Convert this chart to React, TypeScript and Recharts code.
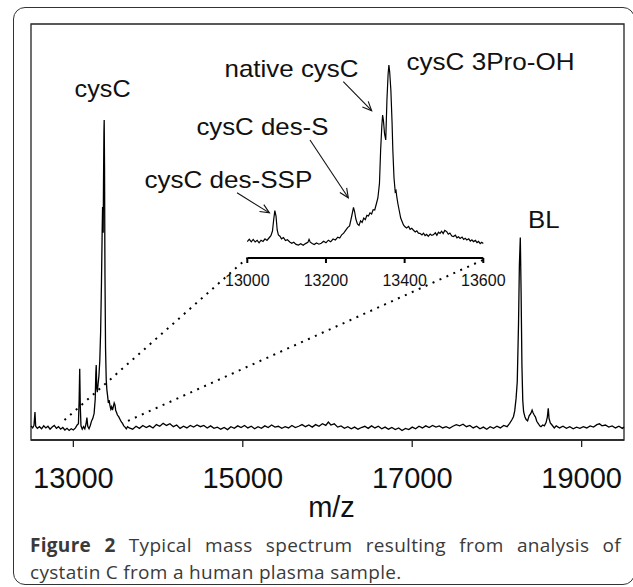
import React from 'react';
import { LineChart, Line, XAxis, YAxis, ReferenceLine, ReferenceArea } from 'recharts';

// [m/z, relative intensity]
const LEFT_BASELINE: [number, number][] = [
  [12500, 3.4], [12520, 2.9], [12535, 3.5], [12547, 6.7], [12555, 3.3], [12575, 2.8],
  [12600, 3.2], [12625, 2.7], [12650, 3.4], [12675, 2.9], [12700, 3.3], [12725, 2.6],
  [12750, 3.1], [12775, 3.5], [12800, 2.8], [12825, 3.2], [12850, 2.6], [12875, 3.0],
  [12900, 2.4], [12925, 2.8], [12950, 2.3], [12975, 2.7], [13000, 2.4], [13025, 2.9],
  [13045, 3.6],
];

const CYSC_REGION: [number, number][] = [
  [13060, 3.9], [13068, 9.5], [13075, 17.1], [13082, 8.0], [13090, 3.4], [13105, 2.6],
  [13120, 3.2], [13135, 2.7], [13150, 3.9], [13160, 5.4], [13170, 3.3], [13185, 2.7],
  [13200, 3.5], [13215, 4.6], [13230, 5.2], [13245, 6.4], [13258, 9.8], [13265, 16],
  [13270, 18], [13276, 12.5], [13283, 11.5], [13292, 13.5], [13302, 15.5], [13312, 19],
  [13322, 26], [13332, 38], [13340, 50], [13345, 56], [13349, 52], [13352, 49.8],
  [13356, 62], [13361, 74], [13364, 76.9], [13368, 66], [13373, 40], [13380, 22],
  [13388, 14.5], [13396, 12], [13405, 10.5], [13413, 8.9], [13422, 9.6], [13432, 8.3],
  [13442, 7.4], [13452, 8.0], [13462, 7.2], [13472, 8.0], [13482, 8.9], [13492, 8.4],
  [13500, 7.1], [13510, 6.6], [13520, 6.0], [13535, 5.6], [13550, 5.0], [13565, 4.4],
  [13580, 4.0], [13595, 3.4], [13610, 3.1], [13625, 2.7], [13640, 3.2],
];

const MID_BASELINE: [number, number][] = [
  [13660, 2.9], [13700, 2.6], [13740, 3.3], [13780, 2.8], [13820, 3.5], [13860, 3.0],
  [13900, 3.4], [13940, 2.9], [13980, 3.7], [14020, 3.3], [14060, 4.0], [14100, 3.5],
  [14140, 3.9], [14180, 3.2], [14220, 3.6], [14260, 2.8], [14300, 3.3], [14340, 2.9],
  [14380, 3.5], [14420, 3.1], [14460, 3.6], [14500, 3.2], [14540, 3.5], [14580, 2.9],
  [14620, 3.4], [14660, 2.8], [14700, 3.1], [14740, 2.6], [14780, 3.0], [14820, 2.5],
  [14860, 3.2], [14900, 2.8], [14940, 3.4], [14980, 3.0], [15020, 3.5], [15060, 2.9],
  [15100, 3.3], [15140, 2.7], [15180, 3.2], [15220, 2.8], [15260, 3.4], [15300, 3.0],
  [15340, 3.6], [15380, 3.1], [15420, 3.3], [15460, 2.8], [15500, 3.2], [15540, 2.9],
  [15580, 3.5], [15620, 3.0], [15660, 3.3], [15700, 3.7], [15740, 3.2], [15780, 3.6],
  [15820, 3.1], [15860, 3.7], [15900, 3.3], [15940, 3.9], [15980, 3.5], [16010, 4.3],
  [16040, 3.6], [16080, 3.9], [16120, 3.1], [16160, 3.4], [16200, 2.8], [16240, 3.2],
  [16280, 2.7], [16320, 3.1], [16360, 2.6], [16400, 3.0], [16440, 3.3], [16480, 2.8],
  [16520, 3.4], [16560, 2.9], [16600, 3.3], [16640, 2.7], [16680, 3.1], [16720, 2.6],
  [16760, 3.0], [16800, 2.5], [16840, 2.9], [16880, 2.3], [16920, 2.8], [16960, 2.5],
  [17000, 3.1], [17040, 2.7], [17080, 3.3], [17120, 2.9], [17160, 3.4], [17200, 3.0],
  [17240, 3.5], [17280, 3.1], [17320, 3.4], [17360, 2.9], [17400, 3.2], [17440, 2.8],
  [17480, 3.3], [17520, 3.7], [17560, 3.4], [17600, 3.8], [17640, 3.2], [17680, 3.5],
  [17720, 2.9], [17760, 3.3], [17800, 2.7], [17840, 3.1], [17880, 2.6], [17920, 3.2],
  [17960, 2.8], [18000, 3.3], [18040, 2.9], [18080, 3.5], [18120, 3.2],
];

const BL_REGION: [number, number][] = [
  [18150, 4.0], [18175, 4.8], [18195, 5.6], [18210, 7.0], [18226, 10.0], [18240, 14],
  [18255, 28], [18265, 42], [18276, 48.7], [18285, 36], [18295, 18], [18305, 9.5],
  [18315, 6.8], [18330, 5.6], [18345, 4.9], [18362, 4.6], [18380, 5.8], [18400, 6.4],
  [18415, 7.2], [18425, 6.6], [18440, 6.0], [18455, 5.5], [18470, 4.5], [18490, 3.9],
  [18505, 3.4], [18520, 3.2], [18540, 3.6], [18560, 3.4], [18580, 4.2], [18595, 5.5],
  [18606, 7.6], [18615, 5.2], [18630, 4.1], [18650, 3.6], [18677, 2.9],
];

const RIGHT_BASELINE: [number, number][] = [
  [18700, 3.4], [18740, 2.9], [18780, 3.3], [18820, 2.8], [18860, 3.2], [18900, 2.7],
  [18940, 3.1], [18980, 2.8], [19020, 3.2], [19060, 2.9], [19100, 3.4], [19140, 3.1],
  [19180, 3.7], [19210, 3.9], [19240, 3.4], [19280, 3.6], [19320, 3.1], [19360, 3.4],
  [19400, 2.9], [19440, 3.3], [19480, 2.8], [19500, 3.1],
];

// zoomed trace 13000-13600 shown in the inset
const INSET_SPECTRUM: [number, number][] = [
  [13000, 8.2], [13005, 9.4], [13010, 8.1], [13015, 9.3], [13020, 8.0], [13025, 8.8],
  [13030, 7.6], [13035, 8.9], [13040, 8.3], [13045, 9.6], [13050, 8.8], [13055, 10.0],
  [13060, 11.2], [13064, 13.5], [13067, 19.0], [13070, 23.7], [13073, 21.0], [13076, 14.0],
  [13079, 11.5], [13083, 10.9], [13087, 9.6], [13092, 10.2], [13097, 8.7], [13102, 9.1],
  [13108, 8.0], [13113, 7.4], [13118, 7.9], [13124, 6.8], [13130, 6.5], [13136, 7.1],
  [13142, 6.4], [13148, 7.2], [13154, 7.8], [13157, 9.3], [13160, 7.9], [13165, 7.2],
  [13170, 6.7], [13176, 7.5], [13182, 6.9], [13188, 7.4], [13194, 8.4], [13200, 7.6],
  [13206, 8.9], [13212, 8.1], [13218, 9.5], [13224, 9.0], [13230, 10.4], [13235, 10.0],
  [13240, 11.6], [13245, 12.4], [13250, 13.8], [13255, 15.2], [13260, 16.0], [13265, 20.5],
  [13270, 25.3], [13273, 23.0], [13276, 19.5], [13280, 17.0], [13284, 16.3], [13288, 18.6],
  [13292, 17.8], [13296, 20.0], [13300, 19.2], [13304, 21.3], [13308, 21.0], [13312, 22.6],
  [13316, 22.0], [13320, 24.2], [13324, 24.0], [13328, 27.0], [13332, 30.0], [13336, 37.3],
  [13339, 54.0], [13342, 66.0], [13344, 71.5], [13346, 69.0], [13349, 62.0], [13352, 59.0],
  [13355, 79.0], [13358, 92.0], [13360, 96.5], [13362, 93.0], [13365, 84.0], [13368, 68.0],
  [13370, 54.0], [13373, 40.0], [13376, 33.2], [13378, 33.8], [13380, 30.7], [13383, 27.0],
  [13386, 24.0], [13390, 20.0], [13394, 18.0], [13397, 16.5], [13401, 15.6], [13405, 15.0],
  [13410, 15.8], [13414, 14.3], [13418, 14.9], [13422, 14.0], [13427, 13.0], [13431, 13.6],
  [13435, 12.4], [13439, 12.3], [13444, 11.5], [13448, 12.4], [13452, 11.2], [13456, 11.8],
  [13460, 10.8], [13465, 12.0], [13469, 11.3], [13473, 11.6], [13478, 12.6], [13482, 11.4],
  [13486, 12.9], [13490, 12.3], [13494, 13.4], [13498, 12.2], [13502, 13.8], [13507, 13.2],
  [13511, 11.9], [13515, 12.5], [13520, 11.0], [13524, 10.7], [13529, 11.4], [13533, 10.1],
  [13537, 10.6], [13541, 9.8], [13546, 10.5], [13550, 9.3], [13554, 9.9], [13558, 9.0],
  [13563, 9.6], [13567, 8.4], [13571, 9.1], [13575, 8.2], [13580, 8.8], [13584, 7.7],
  [13588, 8.3], [13592, 7.2], [13596, 7.9], [13600, 7.3],
];

const MAIN_TICKS = [13000, 15000, 17000, 19000];
const INSET_TICKS = [13000, 13200, 13400, 13600];

// dotted lines from the main trace up to the ends of the inset axis (main-chart units)
const ZOOM_LINKS = [
  [{ x: 12895, y: 4.8 }, { x: 15053, y: 43.75 }],
  [{ x: 13645, y: 4.6 }, { x: 17860, y: 43.5 }],
];

const LABELS = [
  { text: 'cysC', x: 74.6, y: 97, w: 56 },
  { text: 'native cysC', x: 224.5, y: 77, w: 134 },
  { text: 'cysC 3Pro-OH', x: 406.5, y: 70, w: 168 },
  { text: 'cysC des-S', x: 196.4, y: 135, w: 132 },
  { text: 'cysC des-SSP', x: 144.4, y: 187.5, w: 168 },
  { text: 'BL', x: 528, y: 228, w: 31.5 },
];

const ARROWS = [
  { x1: 343.3, y1: 81.7, x2: 371.7, y2: 110.7 },
  { x1: 310, y1: 140, x2: 348.3, y2: 197.8 },
  { x1: 237, y1: 192.7, x2: 269.4, y2: 212.9 },
];

const FONT = '"Liberation Sans", Arial, sans-serif';

const toPoints = (rows: [number, number][]) => rows.map(([mz, v]) => ({ mz, v }));

const mainData = toPoints([
  ...LEFT_BASELINE,
  ...CYSC_REGION,
  ...MID_BASELINE,
  ...BL_REGION,
  ...RIGHT_BASELINE,
]);
const insetData = toPoints(INSET_SPECTRUM);

function Arrow({ x1, y1, x2, y2 }: { x1: number; y1: number; x2: number; y2: number }) {
  const a = Math.atan2(y2 - y1, x2 - x1);
  const len = 10;
  const spread = 0.42;
  const p1 = [x2 - len * Math.cos(a - spread), y2 - len * Math.sin(a - spread)];
  const p2 = [x2 - len * Math.cos(a + spread), y2 - len * Math.sin(a + spread)];
  return (
    <g stroke="#111" strokeWidth={1.1} fill="none">
      <line x1={x1} y1={y1} x2={x2} y2={y2} />
      <polyline points={`${p1[0]},${p1[1]} ${x2},${y2} ${p2[0]},${p2[1]}`} />
    </g>
  );
}

export default function App() {
  return (
    <div style={{ position: 'absolute', left: 0, top: 0, width: 633, height: 587, background: '#fff', overflow: 'hidden' }}>
      {/* outer figure frame */}
      <div
        style={{
          position: 'absolute', left: 13, top: 7, width: 620, height: 576,
          border: '1.5px solid #333', borderRadius: 12,
        }}
      />

      <div style={{ position: 'absolute', left: 0, top: 0 }}>
        <LineChart width={633} height={525} data={mainData} margin={{ top: 24, right: 9, left: 31, bottom: 0 }}>
          <XAxis
            dataKey="mz"
            type="number"
            domain={[12500, 19500]}
            ticks={MAIN_TICKS}
            height={85}
            tickSize={7}
            tickMargin={20}
            axisLine={{ stroke: '#222', strokeWidth: 1.3 }}
            tickLine={{ stroke: '#222', strokeWidth: 1.3 }}
            tick={{ fill: '#111', fontSize: 29, fontFamily: FONT }}
            label={{ value: 'm/z', position: 'insideBottom', offset: 8, dx: 4, fill: '#111', fontSize: 29, fontFamily: FONT }}
          />
          <YAxis hide domain={[0, 100]} />
          <ReferenceArea x1={12500} x2={19500} y1={0} y2={100} fill="none" stroke="#222" strokeWidth={1.3} />
          {ZOOM_LINKS.map((seg, i) => (
            <ReferenceLine key={i} segment={seg} stroke="#000" strokeWidth={2} strokeDasharray="2 5.6" ifOverflow="visible" />
          ))}
          <Line dataKey="v" type="linear" stroke="#000" strokeWidth={1.3} dot={false} isAnimationActive={false} />
        </LineChart>
      </div>

      <div style={{ position: 'absolute', left: 207, top: 50 }}>
        <LineChart width={300} height={250} data={insetData} margin={{ top: 8, right: 23.7, left: 40.3, bottom: 0 }}>
          <XAxis
            dataKey="mz"
            type="number"
            domain={[13000, 13600]}
            ticks={INSET_TICKS}
            height={42}
            tickSize={5}
            tickMargin={12}
            axisLine={{ stroke: '#000', strokeWidth: 2 }}
            tickLine={{ stroke: '#000', strokeWidth: 2 }}
            tick={{ fill: '#111', fontSize: 16, fontFamily: FONT }}
          />
          <YAxis hide domain={[0, 100]} />
          <Line dataKey="v" type="linear" stroke="#000" strokeWidth={1.2} dot={false} isAnimationActive={false} />
        </LineChart>
      </div>

      <svg width={633} height={587} style={{ position: 'absolute', left: 0, top: 0, pointerEvents: 'none' }}>
        {LABELS.map((l) => (
          <text
            key={l.text}
            x={l.x}
            y={l.y}
            fontSize={24}
            fontFamily={FONT}
            fill="#111"
            textLength={l.w}
            lengthAdjust="spacingAndGlyphs"
          >
            {l.text}
          </text>
        ))}
        {ARROWS.map((a, i) => (
          <Arrow key={i} {...a} />
        ))}
      </svg>

      <div
        style={{
          position: 'absolute', left: 30, top: 532, width: 591,
          fontFamily: '"Open Sans", "Noto Sans", sans-serif', fontSize: 19, lineHeight: '27px',
          color: '#3a3a3a', letterSpacing: 0.3,
        }}
      >
        <div style={{ textAlign: 'justify', textAlignLast: 'justify' }}>
          <b>Figure 2</b> Typical mass spectrum resulting from analysis of
        </div>
        <div>cystatin C from a human plasma sample.</div>
      </div>
    </div>
  );
}
